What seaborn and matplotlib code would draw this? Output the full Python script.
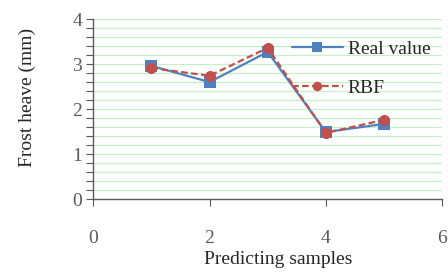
import pandas as pd
import matplotlib
matplotlib.use('Agg')
import matplotlib.pyplot as plt
import seaborn as sns
from matplotlib.ticker import MultipleLocator

# data
samples = [1, 2, 3, 4, 5]
real_value = [2.96, 2.60, 3.27, 1.49, 1.67]
rbf = [2.91, 2.74, 3.36, 1.47, 1.76]

df = pd.DataFrame({
    'Sample': samples * 2,
    'Frost heave': real_value + rbf,
    'Series': ['Real value'] * len(samples) + ['RBF'] * len(samples),
})

sns.set_style('white')
plt.rcParams['font.family'] = ['Liberation Serif', 'DejaVu Serif']

fig = plt.figure(figsize=(4.48, 2.72), dpi=100)
ax = fig.add_axes([0.208, 0.268, 0.779, 0.662])

sns.lineplot(data=df, x='Sample', y='Frost heave', hue='Series', style='Series',
             palette={'Real value': '#4F81BD', 'RBF': '#C0504D'},
             markers={'Real value': 's', 'RBF': 'o'},
             dashes={'Real value': '', 'RBF': (3, 1.5)},
             markersize=8, linewidth=1.6, markeredgewidth=0, ax=ax)

ax.set_xlim(0, 6)
ax.set_ylim(0, 4)
ax.xaxis.set_major_locator(MultipleLocator(2))
ax.yaxis.set_major_locator(MultipleLocator(1))
ax.yaxis.set_minor_locator(MultipleLocator(0.2))

ax.grid(True, which='both', axis='y', color='#c4f2c4', linewidth=0.9)
ax.set_axisbelow(True)

for side in ['top', 'right']:
    ax.spines[side].set_visible(False)
for side in ['left', 'bottom']:
    ax.spines[side].set_color('#595959')
    ax.spines[side].set_linewidth(1.0)

ax.tick_params(axis='y', which='both', direction='out', left=True, color='#595959',
               labelsize=14, labelcolor='#595959', length=5, width=0.8)
ax.tick_params(axis='y', which='major', pad=3)
ax.tick_params(axis='x', direction='out', bottom=True, color='#595959',
               labelsize=14, labelcolor='#595959', length=5, width=0.8, pad=17)

ax.set_xlabel('Predicting samples', fontsize=14)
ax.set_ylabel('Frost heave (mm)', fontsize=14)
ax.xaxis.set_label_coords(0.53, -0.29)
ax.yaxis.set_label_coords(-0.165, 0.565)

leg = ax.legend(loc='upper left', bbox_to_anchor=(0.52, 0.98), frameon=False,
                fontsize=14, handlelength=2.6, labelspacing=1.1, handletextpad=0.25,
                markerscale=0.85, title=None)

fig.savefig('out.png', dpi=100)
